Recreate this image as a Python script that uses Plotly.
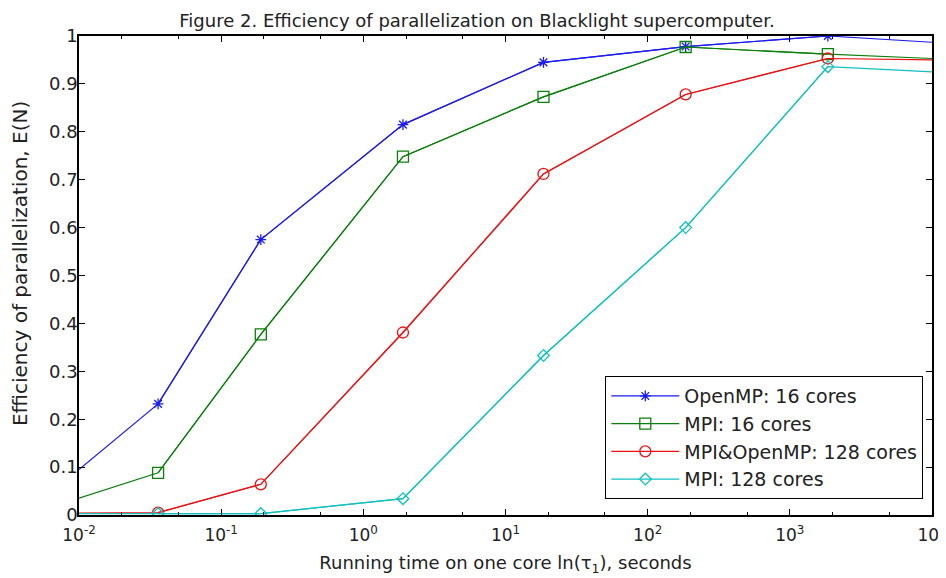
import plotly.graph_objects as go

# Running time on one core (seconds); first/last are axis-edge line extensions
x_time = [0.01, 0.036, 0.19, 1.9, 18.5, 185, 1850, 10000]

series_names = ["OpenMP: 16 cores", "MPI: 16 cores", "MPI&OpenMP: 128 cores", "MPI: 128 cores"]
openmp_16 = [0.095, 0.232, 0.575, 0.815, 0.945, 0.978, 1.0, 0.987]
mpi_16 = [0.035, 0.088, 0.377, 0.748, 0.873, 0.977, 0.962, 0.953]
hybrid_128 = [0.004, 0.005, 0.064, 0.381, 0.712, 0.878, 0.953, 0.950]
mpi_128 = [0.003, 0.003, 0.003, 0.034, 0.333, 0.600, 0.936, 0.925]

colors = ["#1c1cf0", "#0a800a", "#ee1010", "#10c0c0"]
symbols = ["asterisk-open", "square-open", "circle-open", "diamond-open"]
msizes = [9, 11, 11, 9]

y_ticks = [0, 0.1, 0.2, 0.3, 0.4, 0.5, 0.6, 0.7, 0.8, 0.9, 1]
y_ticktext = ["0", "0.1", "0.2", "0.3", "0.4", "0.5", "0.6", "0.7", "0.8", "0.9", "1"]
x_ticks = [0.01, 0.1, 1, 10, 100, 1000, 10000]
x_ticktext = ["10<sup>-2</sup>", "10<sup>-1</sup>", "10<sup>0</sup>", "10<sup>1</sup>",
              "10<sup>2</sup>", "10<sup>3</sup>", "10<sup>4</sup>"]

FAM = "DejaVu Sans, Verdana, sans-serif"
TXT = "#222222"

fig = go.Figure()
all_series = [openmp_16, mpi_16, hybrid_128, mpi_128]
for name, ys, c, s, ms in zip(series_names, all_series, colors, symbols, msizes):
    # full line including edge extensions
    fig.add_trace(go.Scatter(x=x_time, y=ys, mode="lines", line=dict(color=c, width=1.2),
                             showlegend=False, hoverinfo="skip"))
    # markers at measured points
    fig.add_trace(go.Scatter(x=x_time[1:-1], y=ys[1:-1], mode="lines+markers", name=name,
                             line=dict(color=c, width=1.2),
                             marker=dict(symbol=s, size=ms, color=c, line=dict(color=c, width=1.3))))

# page body has an 8px margin, so the figure is sized/offset to compensate
fig.update_layout(
    width=938, height=570,
    template="none",
    paper_bgcolor="white", plot_bgcolor="white",
    margin=dict(l=71, r=14, t=28, b=63, autoexpand=False),
    title=dict(text="Figure 2. Efficiency of parallelization on Blacklight supercomputer.",
               x=0.5, xanchor="center", y=0.988, yanchor="top",
               font=dict(family=FAM, size=18, color=TXT)),
    font=dict(family=FAM, size=17, color=TXT),
    legend=dict(x=0.617, y=0.29, xanchor="left", yanchor="top",
                bgcolor="white", bordercolor="black", borderwidth=1,
                font=dict(family=FAM, size=19, color=TXT),
                itemwidth=68, tracegroupgap=0),
    showlegend=True,
    annotations=[dict(text="Efficiency of parallelization, E(N)", textangle=-90,
                      xref="paper", yref="paper", x=-0.0692, y=0.526,
                      xanchor="center", yanchor="middle", showarrow=False,
                      font=dict(family=FAM, size=20, color=TXT))],
)
fig.update_xaxes(type="log", range=[-2, 4], tickvals=x_ticks, ticktext=x_ticktext,
                 ticks="inside", ticklen=6, tickcolor="black", automargin=False,
                 minor=dict(ticks="inside", ticklen=3, tickcolor="black", showgrid=False),
                 showline=True, linecolor="black", linewidth=1.5, mirror="ticks",
                 showgrid=False, zeroline=False, ticklabelstandoff=4,
                 ticklabeloverflow="allow",
                 title=dict(text="Running time on one core ln(τ<sub>1</sub>), seconds",
                            font=dict(family=FAM, size=18, color=TXT), standoff=12),
                 tickfont=dict(family=FAM, size=17, color=TXT))
fig.update_yaxes(range=[0, 1], tickvals=y_ticks, ticktext=y_ticktext,
                 ticks="inside", ticklen=6, tickcolor="black", automargin=False,
                 showline=True, linecolor="black", linewidth=1.5, mirror="ticks",
                 showgrid=False, zeroline=False, ticklabelstandoff=-4,
                 ticklabeloverflow="allow",
                 tickfont=dict(family=FAM, size=18, color=TXT))

fig.write_html("out.html")
